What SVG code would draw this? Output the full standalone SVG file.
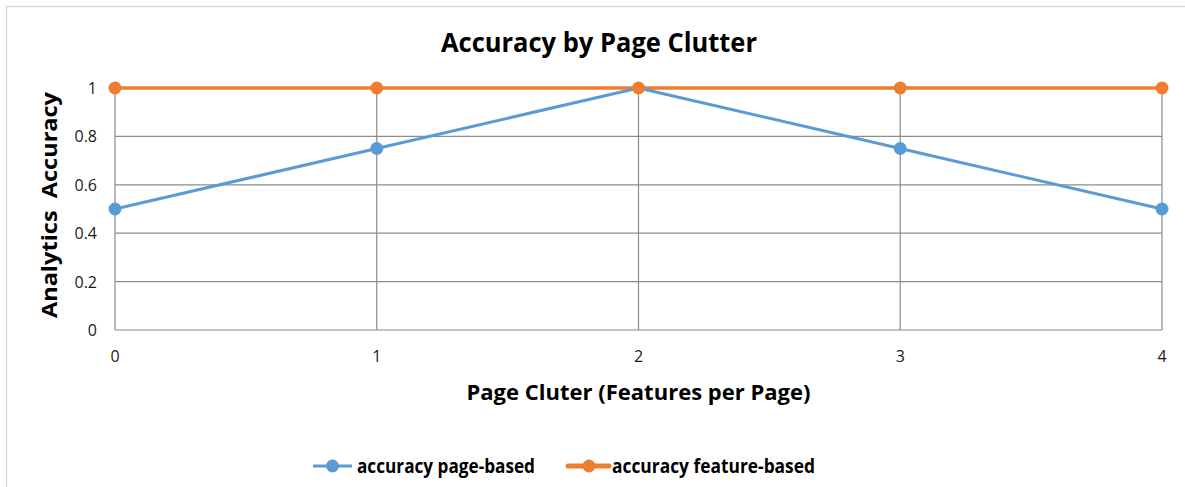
<svg xmlns="http://www.w3.org/2000/svg" width="1185" height="487" viewBox="0 0 1185 487">
<style>
.grid{stroke:#8c8c8c;stroke-width:1.2;fill:none}
.tick{font-family:"Open Sans","Liberation Sans",sans-serif;font-size:16px;fill:#1a1a1a}
.bold{font-family:"Open Sans","Liberation Sans",sans-serif;font-weight:bold;fill:#000}
.blue{stroke:#5b9bd5;stroke-width:3;fill:none;stroke-linejoin:round}
.orange{stroke:#ed7d31;stroke-width:3.5;fill:none}
.bdot{fill:#5b9bd5}
.odot{fill:#ed7d31}
</style>
<rect x="0" y="0" width="1185" height="487" fill="#fff"/>
<path d="M6.5 487 V6.5 H1185" stroke="#d9d9d9" stroke-width="1.5" fill="none"/>
<g id="title"><text class="bold" x="599" y="52" font-size="26" text-anchor="middle" textLength="316" lengthAdjust="spacingAndGlyphs">Accuracy by Page Clutter</text></g>
<g id="grid">
<path class="grid" d="M115 136.4H1162M115 184.8H1162M115 233.2H1162M115 281.6H1162M115 330H1162"/>
<path class="grid" d="M115 88V330M376.75 88V330M638.5 88V330M900.25 88V330M1162 88V330"/>
</g>
<g id="y-ticks" text-anchor="end">
<text class="tick" x="97" y="93.5">1</text>
<text class="tick" x="97" y="142">0.8</text>
<text class="tick" x="97" y="190.5">0.6</text>
<text class="tick" x="97" y="239">0.4</text>
<text class="tick" x="97" y="287.5">0.2</text>
<text class="tick" x="97" y="336">0</text>
</g>
<g id="x-ticks" text-anchor="middle">
<text class="tick" x="115" y="362">0</text>
<text class="tick" x="376.75" y="362">1</text>
<text class="tick" x="638.5" y="362">2</text>
<text class="tick" x="900.25" y="362">3</text>
<text class="tick" x="1162" y="362">4</text>
</g>
<g id="y-title"><text class="bold" font-size="21" text-anchor="middle" transform="translate(57 205) rotate(-90)" textLength="226" lengthAdjust="spacingAndGlyphs" xml:space="preserve" style="white-space:pre">Analytics  Accuracy</text></g>
<g id="x-title"><text class="bold" font-size="21" x="638.5" y="400" text-anchor="middle" textLength="344" lengthAdjust="spacingAndGlyphs">Page Cluter (Features per Page)</text></g>
<g id="connectors">
<path class="orange" d="M115 88H1162"/>
<path class="blue" d="M115 209L376.75 148.5L638.5 88L900.25 148.5L1162 209"/>
</g>
<g id="series-feature">
<circle class="odot" cx="115" cy="88" r="6.5"/>
<circle class="odot" cx="376.75" cy="88" r="6.5"/>
<circle class="odot" cx="638.5" cy="88" r="6.5"/>
<circle class="odot" cx="900.25" cy="88" r="6.5"/>
<circle class="odot" cx="1162" cy="88" r="6.5"/>
</g>
<g id="series-page">
<circle class="bdot" cx="115" cy="209" r="6.5"/>
<circle class="bdot" cx="376.75" cy="148.5" r="6.5"/>
<circle class="bdot" cx="900.25" cy="148.5" r="6.5"/>
<circle class="bdot" cx="1162" cy="209" r="6.5"/>
</g>
<g id="legend">
<path class="blue" d="M313 466H352"/>
<circle class="bdot" cx="332.5" cy="466" r="6.5"/>
<text class="bold" font-size="19.5" x="357" y="473" textLength="178" lengthAdjust="spacingAndGlyphs">accuracy page-based</text>
<path d="M568 466H609" stroke="#ed7d31" stroke-width="5" stroke-linecap="round"/>
<circle class="odot" cx="589" cy="466" r="6.5"/>
<text class="bold" font-size="19.5" x="612" y="473" textLength="203" lengthAdjust="spacingAndGlyphs">accuracy feature-based</text>
</g>
</svg>
